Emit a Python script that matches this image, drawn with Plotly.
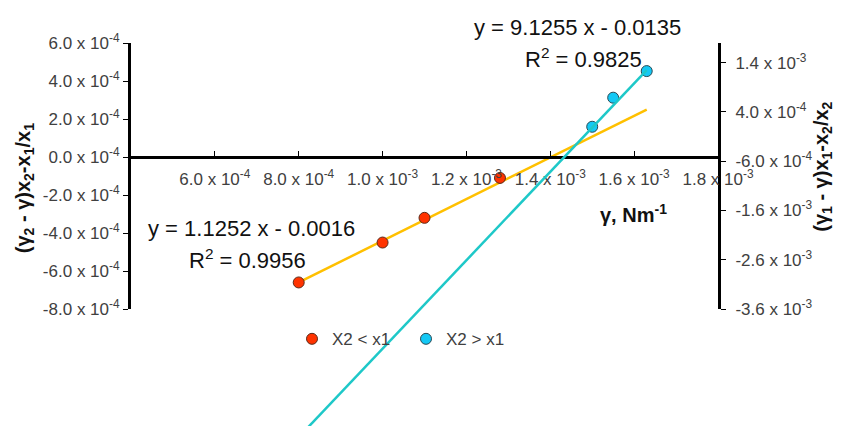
import plotly.graph_objects as go

# data
red_x = [8.0e-4, 1.0e-3, 1.1e-3, 1.28e-3]
red_y = [-6.6e-4, -4.5e-4, -3.2e-4, -1.1e-4]
cyan_x = [1.50e-3, 1.55e-3, 1.63e-3]
cyan_y = [1.0e-4, 6.9e-4, 1.23e-3]

# trendline end points
yellow_trend_x = [8.0e-4, 1.63e-3]
yellow_trend_y = [-6.6e-4, 2.5e-4]
cyan_trend_x = [8.0e-4, 1.63e-3]
cyan_trend_y = [-6.2e-3, 1.25e-3]

x_tickvals = [6e-4, 8e-4, 1.0e-3, 1.2e-3, 1.4e-3, 1.6e-3, 1.8e-3]
x_ticktext = ["6.0 x 10<sup>-4</sup>", "8.0 x 10<sup>-4</sup>", "1.0 x 10<sup>-3</sup>",
              "1.2 x 10<sup>-3</sup>", "1.4 x 10<sup>-3</sup>", "1.6 x 10<sup>-3</sup>",
              "1.8 x 10<sup>-3</sup>"]
yl_tickvals = [-8e-4, -6e-4, -4e-4, -2e-4, 0, 2e-4, 4e-4, 6e-4]
yl_ticktext = ["-8.0 x 10<sup>-4</sup>", "-6.0 x 10<sup>-4</sup>", "-4.0 x 10<sup>-4</sup>",
               "-2.0 x 10<sup>-4</sup>", "0.0 x 10<sup>-4</sup>", "2.0 x 10<sup>-4</sup>",
               "4.0 x 10<sup>-4</sup>", "6.0 x 10<sup>-4</sup>"]
yr_tickvals = [-3.6e-3, -2.6e-3, -1.6e-3, -6e-4, 4e-4, 1.4e-3]
yr_ticktext = ["-3.6 x 10<sup>-3</sup>", "-2.6 x 10<sup>-3</sup>", "-1.6 x 10<sup>-3</sup>",
               "-6.0 x 10<sup>-4</sup>", "4.0 x 10<sup>-4</sup>", "1.4 x 10<sup>-3</sup>"]

# page pixels; the page body keeps an 8px margin on every side of the figure
PAGE_W, PAGE_H = 843, 444
BODY = 8
FIG_BOTTOM = PAGE_H - BODY
L, R, T = 131, 718, 43
AXIS_BOTTOM = 316
FONT = "Liberation Sans"
GREY = "#404040"

x_range = [4e-4, 1.8e-3]
yl_range = [-8e-4, 6e-4]
yr_range = [-3.6e-3, 1.8e-3]


def px_x(px):
    return (px - L) / (R - L)


def px_y(py):
    return (FIG_BOTTOM - py) / (FIG_BOTTOM - T)


# plot area runs to the bottom of the figure so the cyan trendline can overrun the axes
y_dom = [px_y(AXIS_BOTTOM), 1.0]
frac = (y_dom[1] - y_dom[0])
yr_span = yr_range[1] - yr_range[0]
y3_range = [yr_range[1] - yr_span / frac, yr_range[1]]
x_pos = y_dom[0] + (0 - yl_range[0]) / (yl_range[1] - yl_range[0]) * frac

fig = go.Figure()

fig.add_trace(go.Scatter(
    x=cyan_trend_x, y=cyan_trend_y, mode="lines", xaxis="x", yaxis="y3",
    line=dict(color="#1EC8C8", width=2.5), showlegend=False, hoverinfo="skip"))
fig.add_trace(go.Scatter(
    x=yellow_trend_x, y=yellow_trend_y, mode="lines", xaxis="x", yaxis="y",
    line=dict(color="#FFC000", width=2.5), showlegend=False, hoverinfo="skip"))
fig.add_trace(go.Scatter(
    x=red_x, y=red_y, mode="markers", name="X2 < x1", xaxis="x", yaxis="y",
    marker=dict(color="#FF3300", size=11, line=dict(color="#5a2a1a", width=1))))
fig.add_trace(go.Scatter(
    x=cyan_x, y=cyan_y, mode="markers", name="X2 > x1", xaxis="x", yaxis="y2",
    marker=dict(color="#14C8F5", size=11, line=dict(color="#2a4a55", width=1))))

ann = [
    dict(text="y = 1.1252 x - 0.0016", x=px_x(251), y=px_y(233), size=22, angle=0),
    dict(text="R<sup>2</sup> = 0.9956", x=px_x(247), y=px_y(265), size=22, angle=0),
    dict(text="y = 9.1255 x - 0.0135", x=px_x(577), y=px_y(27), size=22, angle=0),
    dict(text="R<sup>2</sup> = 0.9825", x=px_x(583), y=px_y(58), size=22, angle=0),
    dict(text="<b>γ, Nm<sup>-1</sup></b>", x=px_x(633), y=px_y(218), size=20, angle=0),
    dict(text="<b>(γ<sub>2</sub> - γ)x<sub>2</sub>-x<sub>1</sub>/x<sub>1</sub></b>",
         x=px_x(24), y=px_y(192), size=20, angle=-90),
    dict(text="<b>(γ<sub>1</sub> - γ)x<sub>1</sub>-x<sub>2</sub>/x<sub>2</sub></b>",
         x=px_x(823), y=px_y(170), size=20, angle=-90),
]
for a in ann:
    fig.add_annotation(text=a["text"], x=a["x"], y=a["y"], xref="paper", yref="paper",
                       xanchor="center", yanchor="middle",
                       showarrow=False, textangle=a["angle"],
                       font=dict(family=FONT, size=a["size"], color="#111111"))

fig.update_layout(
    width=PAGE_W - 2 * BODY, height=PAGE_H - 2 * BODY,
    margin=dict(l=L - BODY, r=PAGE_W - BODY - R, t=T - BODY, b=0),
    paper_bgcolor="white", plot_bgcolor="rgba(0,0,0,0)",
    font=dict(family=FONT, size=17, color=GREY),
    xaxis=dict(range=x_range, domain=[0, 1], anchor="free", position=x_pos,
               tickvals=x_tickvals, ticktext=x_ticktext, ticks="inside", ticklen=5,
               tickcolor="black", showline=True, linecolor="black", linewidth=2.5,
               showgrid=False, zeroline=False, ticklabelstandoff=6,
               tickfont=dict(size=17, color=GREY)),
    yaxis=dict(range=yl_range, domain=y_dom, anchor="x", tickvals=yl_tickvals,
               ticktext=yl_ticktext, ticks="outside", ticklen=5, tickcolor="black",
               showline=True, linecolor="black", linewidth=3, showgrid=False,
               zeroline=False, tickfont=dict(size=17, color=GREY)),
    yaxis2=dict(range=yr_range, domain=y_dom, overlaying="y", side="right", anchor="x",
                tickvals=yr_tickvals, ticktext=yr_ticktext, ticks="outside", ticklen=5,
                tickcolor="black", showline=True, linecolor="black", linewidth=3,
                showgrid=False, zeroline=False, ticklabelstandoff=6,
                tickfont=dict(size=17, color=GREY)),
    yaxis3=dict(range=y3_range, domain=[0, 1], anchor="x", visible=False,
                showgrid=False, zeroline=False),
    showlegend=True,
    legend=dict(orientation="h", x=px_x(292), y=px_y(347), xanchor="left",
                yanchor="middle", font=dict(family=FONT, size=17, color=GREY),
                bgcolor="rgba(0,0,0,0)", entrywidth=69, itemwidth=30),
)

fig.write_html("out.html")
